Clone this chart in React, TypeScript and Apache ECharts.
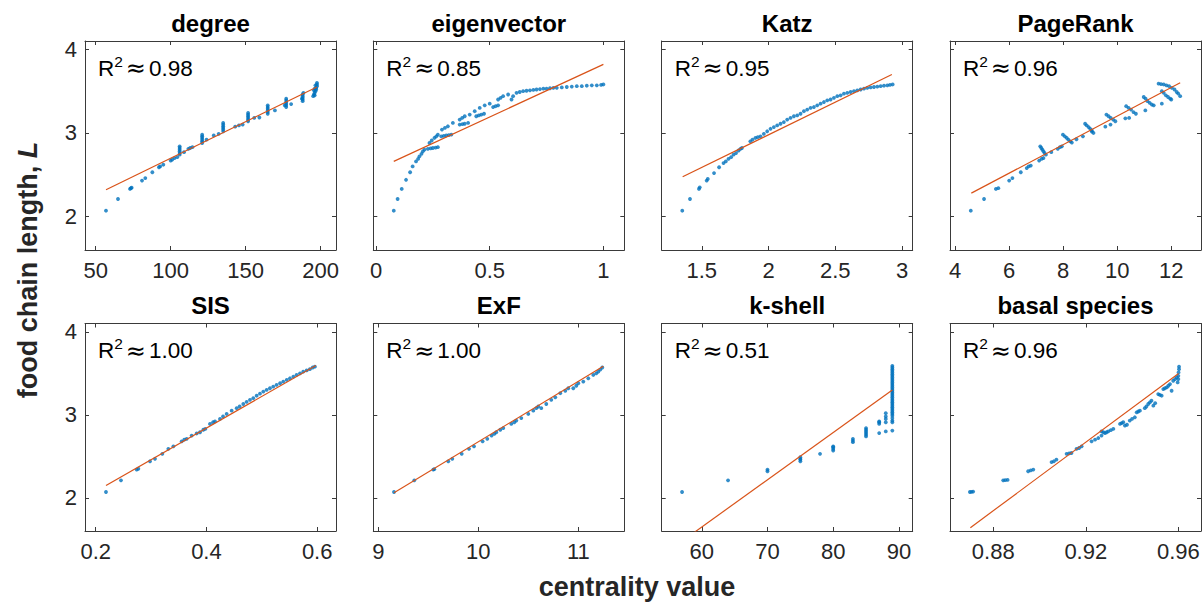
import React, { useEffect, useRef } from "react";
import * as echarts from "echarts";

// ---- data ----
const panelTitles = ["degree", "eigenvector", "Katz", "PageRank", "SIS", "ExF", "k-shell", "basal species"];
const rSquared = ["0.98", "0.85", "0.95", "0.96", "1.00", "1.00", "0.51", "0.96"];

const xRanges: [number, number][] = [
  [42.9, 210.2],
  [-0.012, 1.092],
  [1.2, 3.08],
  [3.81, 13.1],
  [0.1807, 0.634],
  [8.95, 11.46],
  [53.9, 92.1],
  [0.8613, 0.9698],
];
const xTicks: number[][] = [
  [50, 100, 150, 200],
  [0, 0.5, 1],
  [1.5, 2, 2.5, 3],
  [4, 6, 8, 10, 12],
  [0.2, 0.4, 0.6],
  [9, 10, 11],
  [60, 70, 80, 90],
  [0.88, 0.92, 0.96],
];
const yRange: [number, number] = [1.6, 4.1];
const yTicks = [2, 3, 4];

type Pt = [number, number];

const degreePts: Pt[] = [
  [56.9, 2.07], [64.9, 2.21], [72.9, 2.33], [73.5, 2.34], [74, 2.345], [80.9, 2.43], [83.1, 2.46],
  [87.8, 2.53], [92.2, 2.59], [93, 2.6], [95.1, 2.62], [100, 2.67], [101, 2.68], [102.6, 2.7], [104.4, 2.71],
  [106, 2.74], [106, 2.76], [106, 2.78], [106, 2.8], [106, 2.82], [106, 2.84],
  [108.9, 2.77], [111.8, 2.81], [113, 2.82], [114.5, 2.83],
  [121, 2.88], [121, 2.9], [121, 2.92], [121, 2.94], [121, 2.96], [121, 2.98],
  [123.9, 2.92], [128.7, 2.97], [132, 2.99],
  [135, 3.02], [135, 3.04], [135, 3.06], [135, 3.08], [135, 3.1], [135, 3.12],
  [143, 3.075], [145.5, 3.09], [148, 3.1],
  [151.6, 3.14], [151.6, 3.16], [151.6, 3.18], [151.6, 3.2], [151.6, 3.22], [151.6, 3.24],
  [155.7, 3.18], [159.1, 3.185],
  [164.7, 3.23], [164.7, 3.25], [164.7, 3.27], [164.7, 3.29], [164.7, 3.31], [164.7, 3.33],
  [169.5, 3.27],
  [176, 3.33], [177, 3.31], [177, 3.33], [177, 3.35], [177, 3.37], [177, 3.39], [177, 3.41],
  [180.3, 3.345],
  [187.5, 3.41], [188, 3.38], [188, 3.4], [188, 3.42], [188, 3.44], [188, 3.46], [188.5, 3.48],
  [195, 3.44], [195.5, 3.46], [196, 3.45], [196, 3.48], [196.5, 3.5], [195.5, 3.51], [197, 3.52],
  [196, 3.53], [197, 3.54], [197.5, 3.56], [196.5, 3.57], [197.5, 3.58], [197.5, 3.6],
];

const eigenPts: Pt[] = [
  [0.078, 2.07], [0.095, 2.21], [0.113, 2.33], [0.132, 2.44], [0.15, 2.53], [0.161, 2.6], [0.176, 2.66],
  [0.185, 2.69], [0.191, 2.72], [0.2, 2.75], [0.206, 2.78], [0.213, 2.8],
  [0.228, 2.81], [0.24, 2.815], [0.25, 2.82], [0.262, 2.825], [0.272, 2.83],
  [0.235, 2.88], [0.245, 2.91], [0.257, 2.94], [0.265, 2.96], [0.272, 2.98],
  [0.287, 2.96], [0.298, 2.965], [0.309, 2.97], [0.32, 2.975], [0.331, 2.98],
  [0.29, 3.04], [0.303, 3.06], [0.316, 3.08], [0.338, 3.12],
  [0.368, 3.1], [0.38, 3.105], [0.39, 3.11], [0.405, 3.12],
  [0.368, 3.16], [0.379, 3.18], [0.39, 3.2], [0.412, 3.22], [0.434, 3.26],
  [0.441, 3.2], [0.452, 3.21], [0.463, 3.22], [0.475, 3.23],
  [0.456, 3.3], [0.478, 3.33], [0.5, 3.35], [0.515, 3.31], [0.526, 3.32], [0.537, 3.33],
  [0.537, 3.4], [0.548, 3.42], [0.559, 3.44], [0.581, 3.46], [0.596, 3.4], [0.603, 3.44],
  [0.618, 3.48], [0.632, 3.49], [0.647, 3.5], [0.662, 3.505], [0.677, 3.51], [0.692, 3.515],
  [0.706, 3.52], [0.721, 3.525], [0.736, 3.53], [0.75, 3.53], [0.765, 3.535], [0.78, 3.54],
  [0.795, 3.54], [0.817, 3.545], [0.839, 3.55], [0.861, 3.555], [0.883, 3.56], [0.905, 3.56],
  [0.927, 3.565], [0.949, 3.57], [0.971, 3.57], [0.99, 3.575], [1.0, 3.58],
];

const katzPts: Pt[] = [
  [1.354, 2.07], [1.412, 2.21], [1.479, 2.33], [1.485, 2.35], [1.537, 2.43], [1.545, 2.45], [1.592, 2.52],
  [1.63, 2.59], [1.663, 2.64], [1.68, 2.66], [1.7, 2.69], [1.72, 2.71], [1.738, 2.74], [1.757, 2.76],
  [1.776, 2.79], [1.79, 2.81], [1.801, 2.82], [1.864, 2.9], [1.88, 2.92], [1.902, 2.94], [1.92, 2.95],
  [1.94, 2.96], [1.965, 2.99], [1.99, 3.02], [2.015, 3.05], [2.04, 3.07], [2.065, 3.09], [2.09, 3.11],
  [2.115, 3.13], [2.14, 3.16], [2.165, 3.18], [2.19, 3.2], [2.215, 3.21], [2.24, 3.23], [2.265, 3.26],
  [2.29, 3.28], [2.315, 3.3], [2.34, 3.31], [2.365, 3.33], [2.39, 3.35], [2.415, 3.37], [2.44, 3.39],
  [2.465, 3.4], [2.49, 3.42], [2.515, 3.44], [2.54, 3.45], [2.565, 3.47], [2.59, 3.48], [2.615, 3.49],
  [2.64, 3.5], [2.665, 3.51], [2.69, 3.52], [2.715, 3.53], [2.74, 3.54], [2.765, 3.545], [2.79, 3.55],
  [2.815, 3.555], [2.84, 3.56], [2.865, 3.565], [2.89, 3.57], [2.91, 3.575], [2.93, 3.58],
];

const pageRankPts: Pt[] = [
  [4.58, 2.07], [5.07, 2.21], [5.51, 2.33], [5.6, 2.34], [6.0, 2.43], [6.12, 2.46], [6.43, 2.53],
  [6.65, 2.58], [6.72, 2.6], [6.8, 2.61], [7.11, 2.67], [7.2, 2.69], [7.27, 2.7],
  [7.15, 2.84], [7.19, 2.82], [7.23, 2.8], [7.27, 2.78], [7.31, 2.76], [7.36, 2.74],
  [7.56, 2.77], [7.8, 2.81], [7.88, 2.83], [7.95, 2.84],
  [7.99, 2.98], [8.06, 2.96], [8.13, 2.94], [8.19, 2.92], [8.26, 2.9], [8.32, 2.885],
  [8.49, 2.925], [8.73, 2.96], [9.06, 3.016],
  [8.81, 3.11], [8.87, 3.09], [8.94, 3.07], [9.0, 3.05], [9.06, 3.03], [9.12, 3.0],
  [9.56, 3.075], [9.75, 3.1],
  [9.6, 3.22], [9.68, 3.2], [9.76, 3.18], [9.85, 3.16], [9.93, 3.14],
  [10.3, 3.175], [10.44, 3.18],
  [10.33, 3.32], [10.42, 3.3], [10.51, 3.28], [10.6, 3.25], [10.69, 3.23],
  [11.04, 3.27],
  [10.98, 3.43], [11.05, 3.41], [11.12, 3.38], [11.2, 3.36], [11.28, 3.34], [11.35, 3.33],
  [11.65, 3.35],
  [11.65, 3.5], [11.72, 3.48], [11.8, 3.45], [11.88, 3.43], [11.96, 3.41], [12.0, 3.4],
  [11.53, 3.59], [11.62, 3.585], [11.72, 3.58], [11.82, 3.57], [11.92, 3.56], [12.02, 3.54],
  [12.12, 3.52], [12.2, 3.49], [12.26, 3.47], [12.33, 3.44],
];

const sisPts: Pt[] = [
  [0.2186, 2.07], [0.2457, 2.21], [0.274, 2.34], [0.277, 2.35], [0.2981, 2.44], [0.3071, 2.47],
  [0.3204, 2.53], [0.3312, 2.59], [0.3403, 2.62], [0.3553, 2.68], [0.36, 2.7], [0.3643, 2.71],
  [0.3733, 2.75], [0.3824, 2.775], [0.3884, 2.79], [0.3944, 2.82], [0.398, 2.83], [0.4064, 2.89],
  [0.412, 2.91], [0.4155, 2.92], [0.4245, 2.95], [0.43, 2.98], [0.4365, 3.01], [0.4456, 3.05],
  [0.4546, 3.08], [0.46, 3.1], [0.4666, 3.13], [0.4726, 3.155], [0.4786, 3.18], [0.4846, 3.2],
  [0.4907, 3.23], [0.4967, 3.255], [0.5027, 3.28], [0.5087, 3.3], [0.5147, 3.32], [0.5207, 3.34],
  [0.5267, 3.36], [0.533, 3.38], [0.5388, 3.4], [0.545, 3.42], [0.5508, 3.44], [0.557, 3.46],
  [0.5628, 3.48], [0.569, 3.5], [0.5748, 3.52], [0.581, 3.535], [0.5868, 3.55], [0.592, 3.57],
  [0.5959, 3.58],
];

const exfPts: Pt[] = [
  [9.157, 2.07], [9.36, 2.21], [9.55, 2.34], [9.56, 2.345], [9.7, 2.44], [9.74, 2.47], [9.834, 2.53],
  [9.907, 2.59], [9.957, 2.62], [10.043, 2.68], [10.09, 2.71], [10.133, 2.75], [10.16, 2.77],
  [10.18, 2.79], [10.22, 2.82], [10.25, 2.84], [10.33, 2.89], [10.36, 2.91], [10.38, 2.93],
  [10.43, 2.96], [10.5, 3.01], [10.55, 3.05], [10.58, 3.08], [10.6, 3.1], [10.63, 3.08],
  [10.68, 3.13], [10.73, 3.18], [10.77, 3.21], [10.82, 3.26], [10.87, 3.29], [10.9, 3.32],
  [10.95, 3.32], [10.98, 3.35], [11.0, 3.38], [11.05, 3.4], [11.1, 3.44], [11.15, 3.48],
  [11.18, 3.5], [11.2, 3.52], [11.22, 3.545], [11.24, 3.57],
];

const kShellPts: Pt[] = [
  [57, 2.07], [64, 2.21], [70, 2.32], [70, 2.34], [75, 2.44], [75, 2.46], [75, 2.47], [75, 2.49],
  [78, 2.53], [80, 2.57], [80, 2.59], [80, 2.61], [80, 2.62], [83, 2.67], [83, 2.69], [83, 2.71],
  [85, 2.74], [85, 2.76], [85, 2.78], [85, 2.8], [85, 2.82], [85, 2.84],
  [87, 2.78], [87, 2.89], [87, 2.91], [87, 2.92],
  [88, 2.8], [88, 2.91], [88, 2.95], [88, 2.98], [88, 3.02],
  [89, 2.81], [89, 2.91], [89, 2.93], [89, 2.96], [89, 2.99], [89, 3.01], [89, 3.03], [89, 3.05],
  [89, 3.07], [89, 3.09], [89, 3.11], [89, 3.13], [89, 3.15], [89, 3.17], [89, 3.19], [89, 3.21],
  [89, 3.23], [89, 3.25], [89, 3.27], [89, 3.29], [89, 3.31], [89, 3.33], [89, 3.35], [89, 3.37],
  [89, 3.39], [89, 3.41], [89, 3.43], [89, 3.45], [89, 3.47], [89, 3.49], [89, 3.51], [89, 3.53],
  [89, 3.55], [89, 3.57], [89, 3.59],
];

const basalPts: Pt[] = [
  [0.8699, 2.07], [0.8706, 2.072], [0.8713, 2.075], [0.8843, 2.21], [0.8852, 2.212], [0.8862, 2.215],
  [0.8951, 2.32], [0.8962, 2.33], [0.8973, 2.34], [0.9052, 2.43], [0.9062, 2.44], [0.9073, 2.46],
  [0.9117, 2.53], [0.9128, 2.535], [0.9138, 2.54], [0.916, 2.59], [0.9171, 2.6], [0.9182, 2.62],
  [0.9225, 2.68], [0.924, 2.7], [0.9254, 2.72], [0.9268, 2.75], [0.9268, 2.8], [0.9276, 2.79],
  [0.9283, 2.78], [0.929, 2.79], [0.9297, 2.8], [0.9308, 2.815], [0.9319, 2.83],
  [0.9348, 2.89], [0.9355, 2.9], [0.9362, 2.91], [0.9369, 2.87], [0.9378, 2.88], [0.939, 2.93],
  [0.94, 2.95], [0.9412, 2.97], [0.942, 3.03], [0.9427, 3.04], [0.9434, 3.05], [0.9455, 3.08],
  [0.9462, 3.1], [0.947, 3.13], [0.9477, 3.15], [0.9484, 3.17], [0.9492, 3.11], [0.95, 3.14],
  [0.9513, 3.25], [0.952, 3.24], [0.9528, 3.23], [0.9535, 3.31], [0.9542, 3.32], [0.955, 3.33],
  [0.9557, 3.35], [0.9564, 3.37], [0.9571, 3.29], [0.9578, 3.41], [0.9586, 3.43], [0.9593, 3.45],
  [0.9597, 3.39], [0.96, 3.43], [0.96, 3.47], [0.9601, 3.51], [0.9603, 3.55], [0.9603, 3.58],
];

// least-squares fit segments (endpoints)
const degreeFit: Pt[] = [[56.9, 2.32], [197.5, 3.55]];
const eigenFit: Pt[] = [[0.078, 2.66], [1.0, 3.82]];
const katzFit: Pt[] = [[1.357, 2.476], [2.924, 3.7]];
const pageRankFit: Pt[] = [[4.6, 2.28], [12.33, 3.6]];
const sisFit: Pt[] = [[0.2186, 2.148], [0.5977, 3.594]];
const exfFit: Pt[] = [[9.157, 2.06], [11.25, 3.586]];
const kShellFit: Pt[] = [[57.05, 1.48], [89, 3.3]];
const basalFit: Pt[] = [[0.8701, 1.64], [0.9601, 3.498]];

const scatterSets = [degreePts, eigenPts, katzPts, pageRankPts, sisPts, exfPts, kShellPts, basalPts];
const fitSets = [degreeFit, eigenFit, katzFit, pageRankFit, sisFit, exfFit, kShellFit, basalFit];

// ---- layout / style ----
const W = 1202;
const H = 603;
const COL_LEFT = [85, 373.3, 661.7, 950];
const COL_W = 251;
const ROW_TOP = [41, 323.5];
const ROW_H = [209, 207.5];
const FONT = "'Liberation Sans', Arial, Helvetica, sans-serif";
const AXIS_COLOR = "#3a3a3a";
const TEXT_COLOR = "#262626";
const DOT_COLOR = "#0072BD";
const FIT_COLOR = "#D95319";

function buildOption() {
  const grids: any[] = [];
  const xAxes: any[] = [];
  const yAxes: any[] = [];
  const series: any[] = [];
  const graphics: any[] = [];

  panelTitles.forEach((title, i) => {
    const row = Math.floor(i / 4);
    const col = i % 4;
    const left = COL_LEFT[col];
    const top = ROW_TOP[row];
    grids.push({
      left,
      top,
      width: COL_W,
      height: ROW_H[row],
      containLabel: false,
      outerBoundsMode: "none",
      show: false,
    });

    const lineStyle = { color: AXIS_COLOR, width: 1 };
    const tickBase = { show: true, inside: true, length: 4, lineStyle };
    const labelBase = {
      fontSize: 22,
      fontFamily: FONT,
      color: TEXT_COLOR,
    };

    xAxes.push({
      type: "value",
      gridIndex: i,
      position: "bottom",
      min: xRanges[i][0],
      max: xRanges[i][1],
      axisLine: { show: true, onZero: false, lineStyle },
      axisTick: { ...tickBase, customValues: xTicks[i] },
      axisLabel: { ...labelBase, margin: 9, customValues: xTicks[i] },
      splitLine: { show: false },
    });
    xAxes.push({
      type: "value",
      gridIndex: i,
      position: "top",
      min: xRanges[i][0],
      max: xRanges[i][1],
      axisLine: { show: true, onZero: false, lineStyle },
      axisTick: { ...tickBase, customValues: xTicks[i] },
      axisLabel: { show: false },
      splitLine: { show: false },
    });
    yAxes.push({
      type: "value",
      gridIndex: i,
      position: "left",
      min: yRange[0],
      max: yRange[1],
      axisLine: { show: true, onZero: false, lineStyle },
      axisTick: { ...tickBase, customValues: yTicks },
      axisLabel:
        col === 0
          ? { ...labelBase, margin: 8, customValues: yTicks }
          : { show: false },
      splitLine: { show: false },
    });
    yAxes.push({
      type: "value",
      gridIndex: i,
      position: "right",
      min: yRange[0],
      max: yRange[1],
      axisLine: { show: true, onZero: false, lineStyle },
      axisTick: { ...tickBase, customValues: yTicks },
      axisLabel: { show: false },
      splitLine: { show: false },
    });

    series.push({
      type: "scatter",
      xAxisIndex: 2 * i,
      yAxisIndex: 2 * i,
      data: scatterSets[i],
      symbol: "circle",
      symbolSize: 3.8,
      itemStyle: { color: DOT_COLOR },
      silent: true,
      clip: true,
    });
    series.push({
      type: "line",
      xAxisIndex: 2 * i,
      yAxisIndex: 2 * i,
      data: fitSets[i],
      symbol: "none",
      showSymbol: false,
      lineStyle: { color: FIT_COLOR, width: 1.2 },
      silent: true,
      clip: true,
      z: 3,
    });

    // panel title
    graphics.push({
      type: "text",
      x: left + COL_W / 2,
      y: top - 18,
      silent: true,
      style: {
        text: title,
        font: `bold 24px ${FONT}`,
        fill: "#000",
        align: "center",
        verticalAlign: "middle",
        textAlign: "center",
        textVerticalAlign: "middle",
      },
    });

    // R^2 annotation
    graphics.push({
      type: "text",
      x: left + 13,
      y: top + 27,
      silent: true,
      style: {
        text: `{r|R}{s|2}{a|≈}{n|${rSquared[i]}}`,
        fill: "#000",
        align: "left",
        verticalAlign: "middle",
        textAlign: "left",
        textVerticalAlign: "middle",
        rich: {
          r: { fontSize: 22.5, fontFamily: FONT, fill: "#000", lineHeight: 30 },
          s: { fontSize: 15.5, fontFamily: FONT, fill: "#000", lineHeight: 26, verticalAlign: "top", padding: [0, 3, 0, 0] },
          a: { fontSize: 24, fontFamily: "'DejaVu Sans', sans-serif", fill: "#000", lineHeight: 30, padding: [0, 3, 0, 0] },
          n: { fontSize: 22.5, fontFamily: FONT, fill: "#000", lineHeight: 30 },
        },
      },
    });
  });

  // shared axis titles
  graphics.push({
    type: "text",
    x: 637,
    y: 587,
    silent: true,
    style: {
      text: "centrality value",
      font: `bold 27px ${FONT}`,
      fill: TEXT_COLOR,
      align: "center",
      verticalAlign: "middle",
      textAlign: "center",
      textVerticalAlign: "middle",
    },
  });
  graphics.push({
    type: "text",
    x: 28,
    y: 270,
    rotation: Math.PI / 2,
    silent: true,
    style: {
      text: "{b|food chain length, }{i|L}",
      fill: TEXT_COLOR,
      align: "center",
      verticalAlign: "middle",
      textAlign: "center",
      textVerticalAlign: "middle",
      rich: {
        b: { fontSize: 27, fontWeight: "bold", fontFamily: FONT, fill: TEXT_COLOR },
        i: { fontSize: 27, fontWeight: "bold", fontStyle: "italic", fontFamily: FONT, fill: TEXT_COLOR },
      },
    },
  });

  return {
    animation: false,
    backgroundColor: "#ffffff",
    grid: grids,
    xAxis: xAxes,
    yAxis: yAxes,
    series,
    graphic: graphics,
  };
}

export default function App() {
  const ref = useRef<HTMLDivElement>(null);

  useEffect(() => {
    if (!ref.current) return;
    const chart = echarts.init(ref.current, null, { renderer: "svg" });
    chart.setOption(buildOption());
    return () => {
      chart.dispose();
    };
  }, []);

  return (
    <div
      ref={ref}
      style={{ position: "fixed", left: 0, top: 0, width: W, height: H, background: "#fff" }}
    />
  );
}
